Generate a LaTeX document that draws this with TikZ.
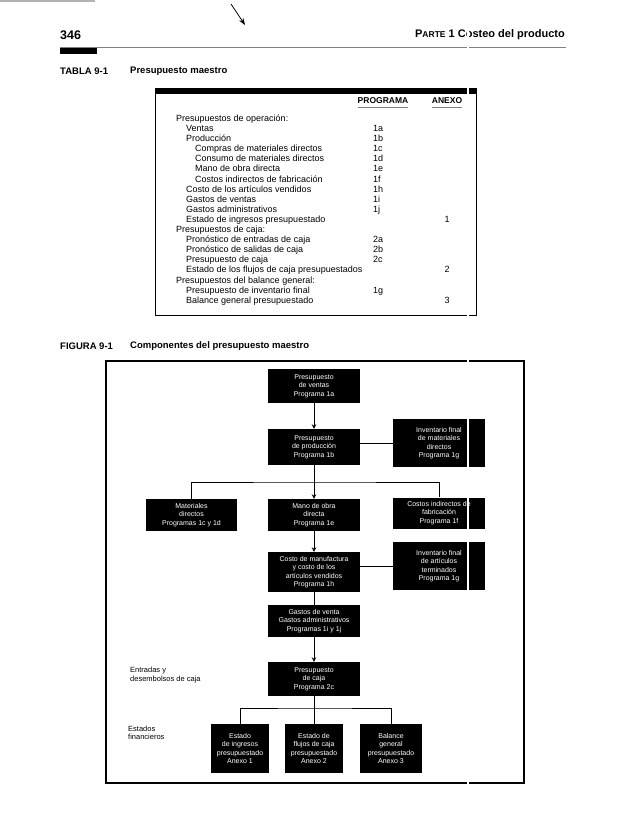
\documentclass[tikz,border=0pt]{standalone}
\usepackage{fontspec}
\setmainfont{Liberation Sans}
\usetikzlibrary{arrows.meta}

\tikzset{
  box/.style={fill=black, text=white, align=center, inner sep=1pt,
    font=\fontsize{7}{8.5}\selectfont},
  row/.style={anchor=west, inner sep=0pt, text height=6.5pt, text depth=2pt,
    font=\fontsize{9}{10}\selectfont},
  code/.style={anchor=west, inner sep=0pt, text height=6.5pt, text depth=2pt,
    font=\fontsize{9}{10}\selectfont},
  colhead/.style={inner sep=0pt, text height=6.5pt, text depth=1pt,
    font=\fontsize{8.5}{10}\selectfont\bfseries},
  side/.style={anchor=west, align=left, inner sep=0pt, font=\fontsize{7.5}{8.5}\selectfont},
  head/.style={anchor=west, inner sep=0pt, font=\fontsize{9.5}{11}\selectfont\bfseries},
  link/.style={line width=0.8pt},
  flow/.style={line width=0.8pt, -{Stealth[length=4.5pt,width=4.5pt]}},
}

\begin{document}
\begin{tikzpicture}[x=1pt, y=-1pt]
    \useasboundingbox (0,0) rectangle (638,821);

    % marks of the scan
    \draw[gray!60, line width=2.5pt] (0,1) -- (95,1);
    \draw[line width=0.8pt, -{Stealth[length=7pt,width=5pt]}] (231,4) -- (245,25);

    % page head
    \node[anchor=west, inner sep=0pt, font=\fontsize{12.5}{14}\selectfont\bfseries] (page) at (60,35) {346};
    \node[anchor=east, inner sep=0pt, font=\fontsize{11}{13}\selectfont\bfseries] (part) at (565,35) {P{\fontsize{8.5}{10}\selectfont ARTE} 1 Costeo del producto};
    \draw[gray, line width=0.6pt] (60,47) -- (566,47);
    \fill (60,48) rectangle (97,54);

    % table
    \node[head] (tab) at (60,71) {TABLA 9-1};
    \node[head] (tabname) at (130,71) {Presupuesto maestro};
    \fill (155,88) rectangle (477,94);
    \draw[line width=0.7pt] (155,94) -- (155,315) -- (476,315) -- (476,94);

    \node[colhead] (prog) at (383,101) {PROGRAMA};
    \node[colhead] (anexo) at (447,101) {ANEXO};
    \draw[gray, line width=0.7pt] ([yshift=-2pt]prog.south west) -- ([yshift=-2pt]prog.south east);
    \draw[gray, line width=0.7pt] ([yshift=-2pt]anexo.south west) -- ([yshift=-2pt]anexo.south east);

    \node[row] (r1) at (176,119) {Presupuestos de operación:};
    \node[row] (r2) at (186,129) {Ventas};
    \node[row] (r3) at (186,139) {Producción};
    \node[row] (r4) at (195,149) {Compras de materiales directos};
    \node[row] (r5) at (195,159) {Consumo de materiales directos};
    \node[row] (r6) at (195,169) {Mano de obra directa};
    \node[row] (r7) at (195,180) {Costos indirectos de fabricación};
    \node[row] (r8) at (186,190) {Costo de los artículos vendidos};
    \node[row] (r9) at (186,200) {Gastos de ventas};
    \node[row] (r10) at (186,210) {Gastos administrativos};
    \node[row] (r11) at (186,220) {Estado de ingresos presupuestado};
    \node[row] (r12) at (176,230) {Presupuestos de caja:};
    \node[row] (r13) at (186,240) {Pronóstico de entradas de caja};
    \node[row] (r14) at (186,250) {Pronóstico de salidas de caja};
    \node[row] (r15) at (186,260) {Presupuesto de caja};
    \node[row] (r16) at (186,270) {Estado de los flujos de caja presupuestados};
    \node[row] (r17) at (176,281) {Presupuestos del balance general:};
    \node[row] (r18) at (186,291) {Presupuesto de inventario final};
    \node[row] (r19) at (186,301) {Balance general presupuestado};

    \coordinate (pcol) at (373,0);
    \node[code] (p2) at (pcol |- r2) {1a};
    \node[code] (p3) at (pcol |- r3) {1b};
    \node[code] (p4) at (pcol |- r4) {1c};
    \node[code] (p5) at (pcol |- r5) {1d};
    \node[code] (p6) at (pcol |- r6) {1e};
    \node[code] (p7) at (pcol |- r7) {1f};
    \node[code] (p8) at (pcol |- r8) {1h};
    \node[code] (p9) at (pcol |- r9) {1i};
    \node[code] (p10) at (pcol |- r10) {1j};
    \node[code] (p13) at (pcol |- r13) {2a};
    \node[code] (p14) at (pcol |- r14) {2b};
    \node[code] (p15) at (pcol |- r15) {2c};
    \node[code] (p18) at (pcol |- r18) {1g};

    \node[code, anchor=center] (a11) at (anexo |- r11) {1};
    \node[code, anchor=center] (a16) at (anexo |- r16) {2};
    \node[code, anchor=center] (a19) at (anexo |- r19) {3};

    % figure
    \node[head] (fig) at (60,346) {FIGURA 9-1};
    \node[head] (figname) at (130,346) {Componentes del presupuesto maestro};
    \draw[line width=1.3pt] (106,361) rectangle (524,783);

    \node[box, minimum width=92pt, minimum height=34pt] (ventas) at (314,386) {Presupuesto\\de ventas\\Programa 1a};
    \node[box, minimum width=92pt, minimum height=36pt] (prod) at (314,447) {Presupuesto\\de producción\\Programa 1b};
    \node[box, minimum width=92pt, minimum height=48pt] (invmat) at (439,443) {Inventario final\\de materiales\\directos\\Programa 1g};
    \node[box, minimum width=91pt, minimum height=32pt] (mat) at (191.5,515) {Materiales\\directos\\Programas 1c y 1d};
    \node[box, minimum width=92pt, minimum height=32pt] (mano) at (314,515) {Mano de obra\\directa\\Programa 1e};
    \node[box, minimum width=92pt, minimum height=31pt] (costos) at (439,513) {Costos indirectos de\\fabricación\\Programa 1f};
    \node[box, minimum width=92pt, minimum height=40pt] (manuf) at (314,572) {Costo de manufactura\\y costo de los\\artículos vendidos\\Programa 1h};
    \node[box, minimum width=92pt, minimum height=48pt] (invart) at (439,566) {Inventario final\\de artículos\\terminados\\Programa 1g};
    \node[box, minimum width=92pt, minimum height=32pt] (gastos) at (314,621) {Gastos de venta\\Gastos administrativos\\Programas 1i y 1j};
    \node[box, minimum width=92pt, minimum height=34pt] (caja) at (314,679) {Presupuesto\\de caja\\Programa 2c};
    \node[box, minimum width=58pt, minimum height=49pt] (ingr) at (240,748.5) {Estado\\de ingresos\\presupuestado\\Anexo 1};
    \node[box, minimum width=58pt, minimum height=49pt] (flujos) at (314,748.5) {Estado de\\flujos de caja\\presupuestado\\Anexo 2};
    \node[box, minimum width=62pt, minimum height=49pt] (bal) at (391,748.5) {Balance\\general\\presupuestado\\Anexo 3};

    \node[side] (cash) at (130,675) {Entradas y\\desembolsos de caja};
    \node[side] (fin) at (128,733) {Estados\\financieros};

    \coordinate (bus1) at (314,482);
    \coordinate (bus2) at (314,708);

    \draw[flow] (ventas) -- (prod);
    \draw[link] (invmat.west) -- (invmat.west -| prod.east);
    \draw[flow] (prod) -- (mano);
    \draw[link] (mat.north) |- (bus1) -| (costos.north);
    \draw[flow] (mano) -- (manuf);
    \draw[link] (invart.west) -- (invart.west -| manuf.east);
    \draw[link] (manuf) -- (gastos);
    \draw[flow] (gastos) -- (caja);
    \draw[link] (caja) -- (bus2);
    \draw[link] (ingr.north) |- (bus2) -| (bal.north);
    \draw[link] (bus2) -- (flujos);

    % white streak of the scan
    \draw[white, line width=1.8pt] (468,0) -- (468,821);

\end{tikzpicture}
\end{document}
